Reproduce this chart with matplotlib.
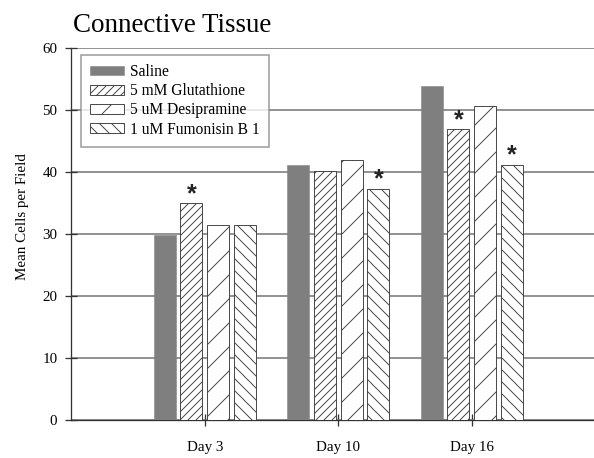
import matplotlib
matplotlib.use("Agg")
import matplotlib.pyplot as plt
import numpy as np

days = ["Day 3", "Day 10", "Day 16"]
series_names = ["Saline", "5 mM Glutathione", "5 uM Desipramine", "1 uM Fumonisin B 1"]
saline = [29.8, 41.1, 53.9]
glutathione = [35.0, 40.1, 46.9]
desipramine = [31.4, 42.0, 50.6]
fumonisin = [31.5, 37.3, 41.2]
# significance markers (1 = asterisk)
sig_glutathione = [1, 0, 1]
sig_desipramine = [0, 0, 0]
sig_fumonisin = [0, 1, 1]
sig_saline = [0, 0, 0]
yticks = [0, 10, 20, 30, 40, 50, 60]

DPI = 72
fig = plt.figure(figsize=(594 / DPI, 458 / DPI), dpi=DPI)
ax = fig.add_axes([71.3 / 594, 38 / 458, 1 - 71.3 / 594, (420 - 48) / 458])

serif = "Liberation Serif"
plt.rcParams["hatch.linewidth"] = 0.9

x = np.arange(1, len(days) + 1)
width = 0.165
pitch = 0.2
offsets = [-1.5 * pitch, -0.5 * pitch, 0.5 * pitch, 1.5 * pitch]
all_vals = [saline, glutathione, desipramine, fumonisin]
all_sig = [sig_saline, sig_glutathione, sig_desipramine, sig_fumonisin]
styles = [
    dict(color="#7f7f7f", edgecolor="#7f7f7f", linewidth=0.5),
    dict(color="white", edgecolor="#3a3a3a", hatch="///", linewidth=0.9),
    dict(color="white", edgecolor="#3a3a3a", hatch="/", linewidth=0.9),
    dict(color="white", edgecolor="#3a3a3a", hatch="\\\\", linewidth=0.9),
]

for ax_i in range(4):
    ax.bar(x + offsets[ax_i], all_vals[ax_i], width=width, label=series_names[ax_i],
           zorder=3, **styles[ax_i])
    for j, v in enumerate(all_vals[ax_i]):
        if all_sig[ax_i][j]:
            ax.annotate("*", xy=(x[j] + offsets[ax_i], v), xytext=(0, -3),
                        textcoords="offset points", ha="center", va="bottom",
                        fontsize=25, fontweight="bold", family="Liberation Sans",
                        color="#222222", zorder=4)

ax.set_ylim(0, 60)
ax.set_xlim(0, (594 - 71.3) / 133.5)
ax.set_yticks(yticks)
ax.set_xticks(x)
ax.set_xticklabels(days, family=serif, fontsize=15)
ax.set_yticklabels([str(t) for t in yticks], family=serif, fontsize=15)
ax.yaxis.grid(True, color="#7a7a7a", linewidth=1.6, zorder=0)
ax.set_axisbelow(True)
for s in ["top", "right"]:
    ax.spines[s].set_visible(False)
for s in ["left", "bottom"]:
    ax.spines[s].set_color("#333333")
    ax.spines[s].set_linewidth(1.3)
ax.tick_params(axis="y", direction="inout", length=12, width=1.3, color="#333333", pad=8)
ax.tick_params(axis="x", direction="inout", length=12, width=1.3, color="#333333", pad=15)

ax.set_ylabel("Mean Cells per Field", family=serif, fontsize=15)
ax.yaxis.set_label_coords(29 / 594, 1 - 217 / 458, transform=fig.transFigure)

fig.text(73 / 594, 1 - 32 / 458, "Connective Tissue", family=serif, fontsize=27,
         ha="left", va="baseline")

leg = ax.legend(loc="upper left", bbox_to_anchor=(81 / 594, 1 - 55 / 458),
                bbox_transform=fig.transFigure, prop={"family": serif, "size": 15.5},
                frameon=True, fancybox=False, borderaxespad=0, borderpad=0.6,
                handlelength=2.15, handleheight=0.55, handletextpad=0.4,
                labelspacing=0.2)
leg.get_frame().set_edgecolor("#888888")
leg.get_frame().set_linewidth(1.6)
leg.set_zorder(5)

fig.savefig("out.png", dpi=DPI)
